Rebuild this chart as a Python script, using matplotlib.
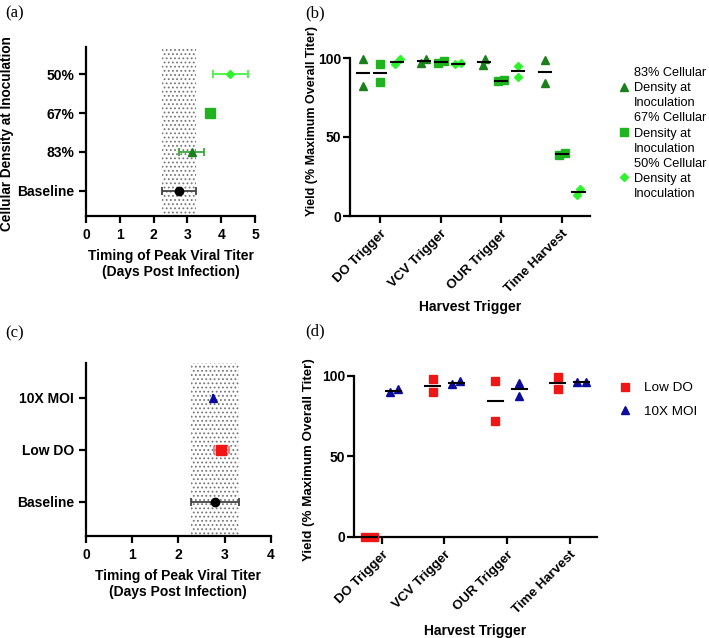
import numpy as np
import matplotlib
matplotlib.use("Agg")
import matplotlib.pyplot as plt

plt.rcParams["font.family"] = ["Liberation Sans", "DejaVu Sans"]
plt.rcParams["font.weight"] = "bold"
plt.rcParams["axes.labelweight"] = "bold"
plt.rcParams["hatch.color"] = "#777777"
plt.rcParams["hatch.linewidth"] = 0.8

# (a) timing of peak titer vs cellular density at inoculation
density_labels = ["Baseline", "83%", "67%", "50%"]
density_peak_day = [2.75, 3.13, 3.67, 4.27]
density_peak_sd = [0.51, 0.37, 0.0, 0.51]

# (c) timing of peak titer vs process condition
condition_labels = ["Baseline", "Low DO", "10X MOI"]
condition_peak_day = [2.79, 2.93, 2.74]
condition_peak_sd = [0.52, 0.16, 0.0]

triggers = ["DO Trigger", "VCV Trigger", "OUR Trigger", "Time Harvest"]

# (b) yield replicates per trigger
yield_83 = [[99.1, 82.4], [97.0, 99.6], [99.6, 95.5], [98.9, 84.0]]
yield_67 = [[95.9, 85.0], [96.9, 98.3], [85.3, 86.0], [38.7, 39.7]]
yield_50 = [[96.3, 99.1], [96.1, 96.9], [94.8, 88.2], [13.3, 16.9]]
density_legend = ["83%", "67%", "50%"]

# (d) yield replicates per trigger
yield_lowdo = [[0.0, 0.0], [98.1, 89.7], [96.7, 72.1], [99.2, 91.5]]
yield_moi = [[89.9, 91.5], [94.6, 96.7], [95.7, 87.6], [95.9, 95.9]]

c83, c67, c50 = "#1b7f1b", "#1fb41f", "#2ef22e"
red, blue = "#f01616", "#0b0b9c"

W, H = 709, 638
fig = plt.figure(figsize=(W / 100, H / 100), dpi=100)


def style(ax):
    for s in ["top", "right"]:
        ax.spines[s].set_visible(False)
    for s in ["left", "bottom"]:
        ax.spines[s].set_linewidth(1.6)
    ax.tick_params(direction="out", length=5, width=1.6, labelsize=10)


def pair_offsets(vals, half, thresh):
    # spread two near-equal points sideways, like a scatter dot plot
    d = abs(vals[1] - vals[0])
    j = half * np.sqrt(max(0.0, 1 - (d / thresh) ** 2))
    order = np.argsort(vals)
    off = np.zeros(2)
    off[order[0]] = -j
    off[order[1]] = j
    return off


def timing_panel(ax, labels, days, sds, colors, ecolors, markers, sizes, xmax, ylim):
    style(ax)
    y = np.arange(len(labels))
    ax.axvspan(days[0] - sds[0], days[0] + sds[0], facecolor="none",
               edgecolor="#777777", hatch="....", linewidth=0, zorder=0)
    for i in range(len(labels)):
        ax.errorbar(days[i], y[i], xerr=sds[i], fmt="none", ecolor=ecolors[i],
                    elinewidth=1.3, capsize=3, capthick=1.3, zorder=2)
        ax.plot(days[i], y[i], marker=markers[i], ms=sizes[i], color=colors[i],
                linestyle="none", zorder=3)
    ax.set_xlim(0, xmax)
    ax.set_ylim(*ylim)
    ax.set_xticks(range(xmax + 1))
    ax.set_yticks(y)
    ax.set_yticklabels(labels)
    ax.set_xlabel("Timing of Peak Viral Titer\n(Days Post Infection)", fontsize=10, labelpad=5)


def yield_panel(ax, groups, colors, markers, sizes, offset, half, line_half, thresh):
    style(ax)
    ax.tick_params(axis="y", pad=1.5)
    x = np.arange(len(triggers))
    for g, (vals, col, mk, ms) in enumerate(zip(groups, colors, markers, sizes)):
        for i in range(len(triggers)):
            xs = x[i] + offset[g] + pair_offsets(vals[i], half, thresh)
            ax.plot(xs, vals[i], marker=mk, ms=ms, color=col, linestyle="none",
                    clip_on=False, zorder=3)
            m = np.mean(vals[i])
            ax.plot([x[i] + offset[g] - line_half, x[i] + offset[g] + line_half], [m, m],
                    color="black", lw=1.5, zorder=4, clip_on=False)
    ax.set_ylim(0, 100)
    ax.set_yticks([0, 50, 100])
    ax.set_xticks(x)
    ax.set_xticklabels(triggers, rotation=45, ha="right", rotation_mode="anchor", fontsize=9.6)
    ax.set_xlabel("Harvest Trigger", fontsize=10)


# (a)
ax_a = fig.add_axes([86 / W, 1 - 216 / H, 169 / W, 169 / H])
timing_panel(ax_a, density_labels, density_peak_day, density_peak_sd,
             ["black", c83, c67, c50], ["#444444", "#3aa83a", c67, "#46f046"],
             ["o", "^", "s", "D"], [6, 6, 6.5, 4.5], 5, (-0.65, 3.7))
ax_a.set_ylabel("Cellular Density at Inoculation", fontsize=9.8)
ax_a.yaxis.set_label_coords(-0.425, 0.49)

# (c)
ax_c = fig.add_axes([86 / W, 1 - 536 / H, 184.7 / W, 173.3 / H])
timing_panel(ax_c, condition_labels, condition_peak_day, condition_peak_sd,
             ["black", red, blue], ["#444444", "#f07a7a", blue],
             ["o", "s", "^"], [6, 6.5, 6], 4, (-0.66, 2.67))

# (b)
ax_b = fig.add_axes([350 / W, 1 - 216 / H, 240 / W, 158 / H])
yield_panel(ax_b, [yield_83, yield_67, yield_50], [c83, c67, c50], ["^", "s", "D"],
            [5.5, 5.5, 4], [-0.28, 0.0, 0.28], 0.05, 0.1, 4.5)
ax_b.set_xlim(-0.5, 3.47)
ax_b.set_ylabel("Yield (% Maximum Overall Titer)", fontsize=9)
ax_b.yaxis.set_label_coords(-0.133, 0.6)
ax_b.xaxis.set_label_coords(0.5, -0.53)

# legend: one row per text line so the marker sits on the middle line
blank = plt.Line2D([], [], linestyle="none")
leg_handles, leg_labels = [], []
for pct, col, mk, ms in zip(density_legend, [c83, c67, c50], ["^", "s", "D"], [5.5, 5.5, 4]):
    mark = plt.Line2D([], [], marker=mk, color=col, ms=ms, linestyle="none")
    leg_handles += [blank, mark, blank]
    leg_labels += [pct + " Cellular", "Density at", "Inoculation"]
ax_b.legend(leg_handles, leg_labels, loc="upper left",
            bbox_to_anchor=(619 / W, 1 - 67 / H), bbox_transform=fig.transFigure,
            frameon=False, prop={"size": 9.2, "weight": "normal"}, handlelength=0.8,
            handletextpad=0.4, labelspacing=0.245, borderpad=0, borderaxespad=0)

# (d)
ax_d = fig.add_axes([354.3 / W, 1 - 537 / H, 242.4 / W, 161.3 / H])
yield_panel(ax_d, [yield_lowdo, yield_moi], [red, blue], ["s", "^"], [5.5, 5.5],
            [-0.19, 0.19], 0.072, 0.12, 4.3)
ax_d.set_xlim(-0.44, 3.43)
ax_d.set_ylabel("Yield (% Maximum Overall Titer)", fontsize=9.6)
ax_d.yaxis.set_label_coords(-0.162, 0.48)
ax_d.xaxis.set_label_coords(0.5, -0.54)
hlo = plt.Line2D([], [], marker="s", color=red, ms=5.5, linestyle="none")
hmo = plt.Line2D([], [], marker="^", color=blue, ms=5.5, linestyle="none")
ax_d.legend([hlo, hmo], ["Low DO", "10X MOI"], loc="upper left",
            bbox_to_anchor=(620 / W, 1 - 382 / H), bbox_transform=fig.transFigure,
            frameon=False, prop={"size": 9.7, "weight": "normal"}, handlelength=0.8,
            handletextpad=1.0, labelspacing=0.8, borderpad=0, borderaxespad=0)

for lbl, x, y in [("(a)", 5, 13), ("(b)", 305, 13), ("(c)", 5, 333), ("(d)", 305, 331)]:
    fig.text(x / W, 1 - y / H, lbl, family="Liberation Serif", fontsize=12,
             fontweight="normal", va="center", ha="left")

fig.savefig("out.png", dpi=100)
